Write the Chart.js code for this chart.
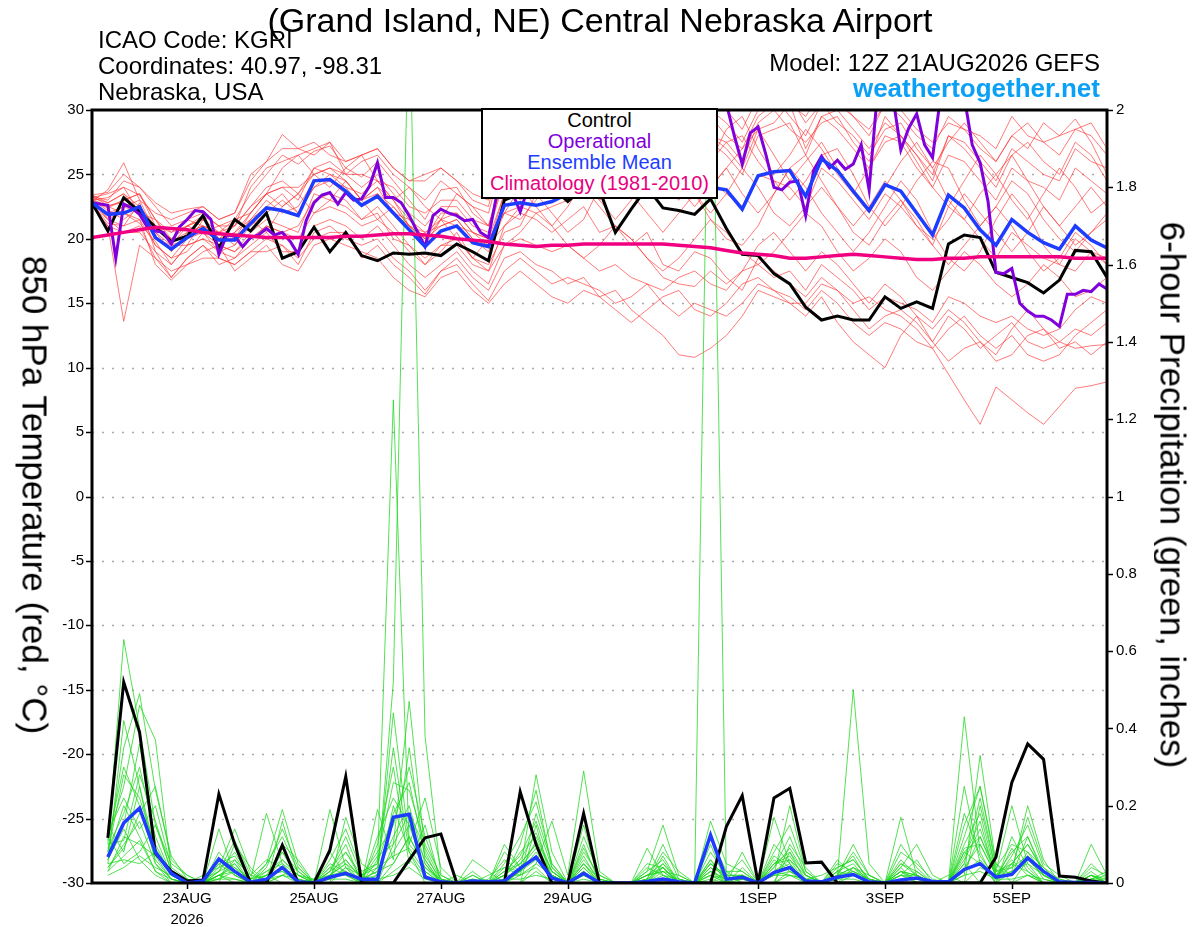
<!DOCTYPE html>
<html>
<head>
<meta charset="utf-8">
<script src="https://cdn.jsdelivr.net/npm/chart.js@4.4.1/dist/chart.umd.min.js"></script>
<style>
html,body{margin:0;padding:0;background:#fff;}
#wrap{position:relative;width:1200px;height:927px;overflow:hidden;font-family:"Liberation Sans",Arial,Helvetica,sans-serif;color:#000;}
#c{position:absolute;left:0;top:0;}
.t{position:absolute;white-space:nowrap;line-height:1;}
#legend{position:absolute;left:481px;top:108px;width:237px;height:91px;box-sizing:border-box;border:2px solid #000;background:#fff;font-size:20px;line-height:21px;text-align:center;padding-top:0px;}
.vt{position:absolute;white-space:nowrap;line-height:1;font-size:35px;transform:translate(-50%,-50%) rotate(90deg);}
</style>
</head>
<body>
<div id="wrap">
<canvas id="c" width="1200" height="927"></canvas>
<div class="t" style="left:0;width:1200px;text-align:center;top:3px;font-size:34px;">(Grand Island, NE) Central Nebraska Airport</div>
<div class="t" style="left:98px;top:28px;font-size:24px;">ICAO Code: KGRI</div>
<div class="t" style="left:98px;top:54px;font-size:24px;">Coordinates: 40.97, -98.31</div>
<div class="t" style="left:98px;top:80px;font-size:24px;">Nebraska, USA</div>
<div class="t" style="right:100px;top:51px;font-size:24px;">Model: 12Z 21AUG2026 GEFS</div>
<div class="t" style="right:100px;top:75px;font-size:26px;font-weight:bold;color:#0aa0f5;">weathertogether.net</div>
<div class="vt" style="left:35px;top:495px;">850 hPa Temperature (red, °C)</div>
<div class="vt" style="left:1173px;top:495px;">6-hour Precipitation (green, inches)</div>
<div id="legend">
<div style="color:#000">Control</div>
<div style="color:rgb(128,0,220)">Operational</div>
<div style="color:rgb(30,60,255)">Ensemble Mean</div>
<div style="color:rgb(232,0,126)">Climatology (1981-2010)</div>
</div>
</div>
<script>
// ---------- axis ticks ----------
const tickHours = [36, 84, 132, 180, 252, 300, 348];
const tickLabels = [["23AUG", "2026"], "25AUG", "27AUG", "29AUG", "1SEP", "3SEP", "5SEP"];

// ---------- 850 hPa temperature, 6-hourly from 12Z 21AUG ----------
const controlTemp = [22.8,20.6,23.2,22.1,20.9,19.8,20.2,21.8,19.3,21.5,
20.6,22.0,18.5,19.0,20.9,19.0,20.5,18.7,18.3,18.9,
18.8,18.9,18.7,19.6,19.0,18.3,23.0,23.5,24.5,24.0,
22.9,24.0,23.8,20.5,22.3,24.0,22.4,22.2,21.9,23.1,
20.8,18.8,18.7,17.3,16.5,14.7,13.7,14.0,13.7,13.7,
15.5,14.6,15.1,14.6,19.6,20.3,20.1,17.4,17.0,16.6,
15.8,16.8,19.1,19.0,17.0];

const meanTemp = [22.8,21.9,22.0,22.5,20.1,19.2,20.1,20.8,19.9,19.9,
21.2,22.4,22.2,21.8,24.5,24.6,23.7,22.6,23.3,22.0,
20.7,19.4,20.6,21.0,19.7,19.4,22.6,22.8,22.6,22.9,
23.5,24.0,24.5,24.0,24.5,25.0,24.5,24.0,24.5,24.0,
23.8,22.3,24.9,25.2,25.3,23.3,26.2,25.3,23.7,22.2,
24.2,23.7,22.0,20.3,23.4,22.4,20.7,19.5,21.5,20.5,
19.7,19.2,21.0,19.9,19.3];

const climoTemp = [20.1,20.3,20.5,20.7,20.9,20.8,20.7,20.5,20.4,20.3,
20.2,20.1,20.1,20.1,20.1,20.1,20.2,20.2,20.3,20.4,
20.4,20.3,20.2,20.0,19.9,19.8,19.6,19.5,19.4,19.5,
19.5,19.6,19.6,19.6,19.6,19.6,19.6,19.5,19.4,19.3,
19.1,18.9,18.8,18.7,18.5,18.5,18.6,18.7,18.8,18.7,
18.6,18.5,18.4,18.4,18.5,18.5,18.6,18.6,18.6,18.6,
18.6,18.6,18.5,18.5,18.5];

// operational run, 3-hourly
const operTemp = [22.8,22.7,22.6,18.5,22.7,22.4,21.9,20.9,20.6,20.5,
19.6,20.9,21.5,22.2,22.1,21.5,18.8,20.3,20.2,19.4,
20.1,20.3,20.8,20.3,20.5,19.8,18.8,21.4,22.8,23.4,
23.6,22.7,23.6,23.0,23.1,24.1,25.9,23.2,23.2,22.8,
21.8,20.6,19.4,21.8,22.3,22.0,21.8,21.4,21.5,20.5,
20.1,23.3,24.0,23.6,22.1,24.0,25.0,26.0,27.5,29.0,
30.5,31.0,31.5,32.0,31.5,32.0,32.5,32.0,31.5,32.0,
32.5,32.0,31.5,32.0,31.5,32.0,31.5,31.0,31.5,31.0,
30.5,28.0,25.8,28.2,28.7,26.5,24.0,23.8,24.4,24.5,
21.8,25.3,26.4,25.5,26.1,25.4,25.8,27.3,23.8,31.0,
32.0,31.0,26.9,28.6,29.7,27.3,26.3,31.0,32.0,32.0,
31.0,27.3,25.9,22.9,17.4,17.3,17.7,15.0,14.4,14.0,
14.0,13.7,13.2,15.7,15.7,16.0,15.9,16.5,16.1];

// ensemble members, temperature
const memT01 = [23.2,23.5,24.0,23.4,21.5,20.0,21.0,21.8,21.0,21.5,23.5,25.0,26.5,25.8,26.8,27.2,25.5,24.8,26.0,24.5,23.0,21.5,23.8,24.0,22.0,21.0,25.5,27.0,28.0,27.5,28.5,29.0,28.0,29.5,28.5,29.0,27.5,28.0,29.5,28.0,27.0,25.5,28.5,29.0,30.5,27.0,29.5,30.0,28.5,27.0,29.0,28.0,26.5,25.0,28.0,27.0,25.5,24.0,26.5,27.5,26.0,25.0,27.5,26.5,24.5];
const memT02 = [22.6,21.0,13.6,19.5,18.5,17.0,18.5,19.5,18.5,18.0,19.0,20.0,19.5,18.0,20.5,21.0,20.0,19.5,20.0,18.5,17.5,16.0,17.5,18.5,17.0,16.0,18.5,19.0,18.0,17.5,16.5,17.0,15.5,16.0,14.5,13.5,12.5,11.0,10.8,11.5,12.5,14.0,16.0,15.5,15.0,14.0,15.5,13.5,12.0,11.0,10.0,12.5,14.0,12.0,10.5,11.5,12.0,10.5,11.0,12.5,13.0,11.5,12.0,11.0,12.0];
const memT03 = [23.0,22.5,22.0,21.5,19.5,18.5,19.0,20.5,19.5,19.0,20.5,21.5,21.0,20.5,23.5,23.0,22.5,21.5,22.0,20.0,19.5,18.0,19.0,20.5,18.5,17.5,21.0,22.0,21.5,20.5,21.5,22.5,20.5,21.0,19.5,20.5,18.0,17.5,19.0,18.5,17.0,16.0,18.5,17.5,16.5,15.5,17.0,16.0,15.0,15.5,14.5,14.0,13.0,11.5,9.5,7.5,5.6,8.5,7.5,6.5,5.6,7.0,8.4,8.6,8.9];
const memT04 = [23.4,22.8,23.5,22.0,20.5,19.5,20.0,21.0,20.0,20.5,22.0,23.5,24.0,23.0,25.5,25.0,24.0,23.5,24.5,23.0,21.0,20.0,21.5,22.0,20.5,19.5,23.5,24.0,23.5,24.5,25.0,24.0,22.5,21.0,20.0,18.5,17.0,16.5,16.3,17.5,16.5,17.5,19.5,20.5,19.0,17.5,19.0,18.0,16.5,15.0,16.5,15.5,14.0,13.0,14.5,13.5,12.0,11.0,13.0,14.5,13.0,12.0,11.5,11.7,11.8];
const memT05 = [22.9,23.8,25.9,23.0,22.0,21.5,22.0,22.5,21.5,22.0,25.0,26.0,28.1,27.0,27.5,26.5,26.0,26.5,27.0,25.5,24.5,25.0,25.5,24.5,23.5,23.0,27.5,29.0,30.5,29.5,30.5,31.0,30.0,31.5,30.5,31.0,29.5,30.5,31.5,30.0,29.0,27.5,30.0,31.0,29.5,28.0,30.5,29.0,28.0,26.5,28.5,29.0,27.0,25.5,27.5,29.0,27.5,26.0,28.0,27.0,29.0,28.0,29.3,27.5,25.0];
const memT06 = [22.7,22.0,22.5,23.0,20.5,19.0,20.5,21.0,20.5,19.5,21.0,22.0,23.0,22.0,24.0,25.0,24.5,23.0,23.5,22.5,21.0,20.0,21.0,21.5,20.0,19.5,21.0,22.5,25.0,26.5,25.0,23.5,24.5,26.5,27.0,25.5,24.0,23.0,24.5,26.0,27.5,28.0,26.0,24.5,23.0,24.5,26.5,27.0,25.0,22.5,21.0,22.5,24.5,26.0,25.5,23.0,21.0,22.5,24.5,23.5,21.5,20.0,19.0,20.5,22.0];
const memT07 = [23.0,21.5,21.0,22.8,19.0,18.0,19.5,20.0,19.0,18.5,20.0,21.0,20.5,21.0,23.0,23.5,23.0,21.5,22.5,21.0,19.5,18.5,19.5,20.0,18.5,18.0,20.5,21.0,23.5,22.0,20.5,21.5,24.0,25.5,23.5,22.0,20.5,22.0,23.5,21.5,20.0,19.5,21.0,23.5,25.5,24.0,22.0,20.5,19.0,20.5,22.5,24.5,23.0,20.5,18.5,17.5,19.0,21.5,23.5,22.0,19.5,18.0,17.5,19.0,18.0];
const memT08 = [23.3,23.0,24.5,24.0,22.5,21.0,21.5,22.0,21.0,21.0,24.0,25.5,26.0,26.5,27.0,27.5,25.0,26.0,26.5,25.0,24.0,23.0,24.5,23.5,22.5,22.0,26.5,28.0,27.5,28.5,29.0,28.5,29.5,28.0,29.0,30.5,29.5,28.5,29.0,29.5,28.0,27.0,29.5,30.5,31.0,29.0,30.5,31.0,29.5,28.5,30.5,29.5,28.0,27.0,29.5,28.5,27.0,26.0,28.0,29.0,27.5,26.5,28.5,28.0,26.5];
const memT09 = [22.5,21.0,20.5,21.0,18.5,17.5,18.0,19.0,19.5,17.5,18.5,19.5,18.0,17.5,19.5,20.0,19.5,19.0,18.5,17.0,16.0,15.5,17.0,17.5,16.0,15.0,16.5,17.5,16.5,15.5,15.0,16.0,15.5,14.5,13.5,14.5,15.5,16.0,14.5,14.0,15.0,16.5,17.0,16.0,15.5,14.5,16.0,15.0,13.5,12.5,13.5,13.0,12.0,11.5,13.0,14.0,12.5,11.5,12.5,11.0,10.5,11.0,12.5,13.5,14.5];
const memT10 = [23.1,22.5,23.0,23.5,21.0,20.0,21.0,21.5,20.5,21.0,22.5,24.0,24.5,23.5,25.5,26.0,25.0,24.0,25.0,23.5,22.0,21.0,22.5,22.5,21.0,20.5,24.5,23.0,24.0,26.5,28.0,26.0,24.5,25.5,27.5,29.0,27.5,25.5,24.5,26.0,28.5,29.5,27.0,25.0,26.5,28.5,27.0,25.0,23.5,25.5,27.5,28.0,26.0,24.0,22.5,24.5,26.5,25.0,23.0,21.5,23.5,25.5,24.0,22.0,23.0];
const memT11 = [22.8,21.8,22.5,22.0,19.5,18.5,20.0,20.5,19.0,19.5,21.5,20.5,22.5,23.5,22.0,23.0,24.5,23.0,21.5,22.5,21.0,19.5,21.5,20.0,18.5,20.0,22.0,22.5,22.0,22.5,23.0,23.5,24.5,24.0,23.5,24.5,24.0,23.5,24.0,24.5,23.5,22.5,25.0,24.5,24.0,22.5,25.5,24.5,23.0,21.5,23.5,22.5,21.0,19.5,22.5,21.5,20.0,18.5,20.5,19.5,18.5,18.0,20.0,19.0,18.5];
const memT12 = [23.0,22.2,21.5,22.5,20.0,19.5,19.5,21.5,20.0,20.0,21.5,23.0,22.0,22.5,24.5,24.5,24.0,22.5,23.5,22.0,21.5,20.5,21.0,21.5,20.0,19.0,22.0,24.0,22.5,21.0,22.5,24.5,23.0,21.5,23.0,25.0,26.5,25.0,23.5,22.0,23.5,25.5,24.0,22.0,21.0,22.5,24.0,22.5,20.5,19.5,21.5,23.0,21.5,19.5,18.0,19.5,21.0,22.5,21.0,19.0,17.5,18.5,20.5,19.5,18.0];
const memT13 = [23.2,22.8,23.5,22.5,21.0,20.5,21.5,21.0,20.5,21.5,22.0,23.5,25.5,26.5,25.0,24.0,25.5,26.5,24.5,23.0,24.0,22.5,21.5,23.5,22.5,21.0,25.0,26.0,26.5,27.0,27.5,28.0,27.0,27.5,28.5,28.0,27.5,27.0,28.0,27.5,26.5,25.0,28.0,28.5,29.0,26.5,29.5,28.5,27.0,25.5,28.0,27.5,25.5,24.0,26.5,26.0,24.5,23.0,25.5,24.5,24.0,23.0,25.5,24.5,23.5];
const memT14 = [22.6,21.5,20.5,20.5,19.0,17.0,18.5,19.5,18.0,18.5,19.5,20.5,19.0,19.0,21.0,21.5,21.0,20.0,21.0,19.5,18.0,17.0,18.0,19.0,17.5,16.5,19.5,20.0,19.5,19.0,19.5,18.5,17.5,18.0,17.0,16.5,16.0,17.0,17.5,16.5,16.0,17.5,18.0,17.0,17.5,16.0,18.0,17.0,16.0,14.5,15.5,15.0,14.5,13.5,15.5,15.0,14.0,13.5,14.0,13.0,12.5,13.0,14.5,15.5,15.0];
const memT15 = [22.9,22.4,23.0,23.5,21.5,19.5,21.0,20.5,21.0,20.0,22.0,23.5,22.5,23.5,25.0,25.5,24.5,23.0,24.0,23.0,21.5,20.0,22.0,22.0,20.5,20.0,23.5,25.5,27.0,25.0,23.5,25.0,27.5,28.5,26.5,25.0,26.5,28.0,26.0,24.0,25.5,27.0,28.5,26.5,24.5,26.0,27.5,25.5,23.5,22.0,24.0,26.0,27.5,25.5,23.0,21.5,23.5,25.0,26.5,24.5,22.5,21.0,22.5,24.0,22.5];
const memT16 = [23.0,23.2,24.0,22.0,21.5,20.5,21.0,21.5,20.0,21.0,22.5,23.5,24.0,24.0,25.0,25.5,25.0,25.0,24.5,24.0,22.5,22.0,23.0,23.0,21.5,21.0,24.5,25.5,26.0,26.5,26.0,27.0,28.0,27.0,26.5,27.5,28.0,27.5,27.0,28.0,27.5,26.0,29.0,30.0,28.5,27.5,29.0,29.5,27.5,26.0,29.5,28.0,26.5,24.5,28.0,27.5,26.0,24.5,27.0,26.0,25.0,24.5,27.0,26.0,25.5];
const memT17 = [22.7,21.2,21.0,21.5,18.0,16.8,18.0,18.5,18.5,18.0,19.0,19.0,19.5,18.5,20.0,20.5,20.5,18.5,19.5,18.0,17.0,15.7,17.5,18.0,16.5,15.2,17.5,18.5,17.5,16.5,17.0,16.5,16.0,15.0,15.5,16.5,15.0,14.0,15.0,14.5,14.0,15.0,16.5,16.0,15.0,15.0,16.5,16.0,14.5,13.0,14.0,14.5,13.5,12.0,14.0,13.0,11.5,12.5,13.5,12.0,11.5,12.0,13.0,12.5,13.5];
const memT18 = [23.3,22.6,22.8,21.8,20.8,19.8,20.5,21.0,19.5,20.5,21.5,22.5,23.5,22.0,24.0,24.5,23.5,23.0,24.0,22.0,21.0,20.5,21.5,21.0,20.5,20.0,22.0,21.5,23.0,25.0,26.5,24.5,23.0,24.0,26.0,27.5,26.0,24.0,22.5,24.0,25.5,23.5,22.0,23.5,25.5,26.5,24.5,22.5,21.0,22.5,24.5,23.0,21.0,20.0,21.5,23.5,22.0,20.5,19.0,20.5,22.5,21.0,19.5,20.5,21.5];
const memT19 = [23.4,23.6,25.0,24.0,22.8,22.0,22.3,22.5,21.5,22.0,24.5,26.0,27.0,27.0,26.5,27.5,26.0,26.5,27.0,25.5,24.5,24.5,25.5,24.5,23.0,22.5,28.0,29.5,30.0,30.5,30.0,31.5,30.5,31.0,31.5,30.5,31.0,31.5,30.5,31.0,30.0,28.5,31.0,31.5,30.5,29.5,31.5,30.5,29.5,28.0,30.5,30.0,28.5,27.5,29.0,28.5,28.0,27.0,29.5,28.0,27.5,28.0,28.5,29.0,27.0];
const memT20 = [22.8,21.6,22.0,21.2,19.8,18.0,19.5,20.0,19.5,19.0,20.0,21.0,20.5,20.0,22.0,22.5,22.0,21.0,21.5,20.5,19.0,18.0,19.5,19.5,18.0,17.5,19.5,20.5,22.0,21.0,19.5,18.5,19.5,21.0,20.0,18.5,17.5,18.5,20.0,21.5,20.5,19.0,18.0,19.0,20.5,22.0,21.0,19.0,17.5,18.5,20.0,19.0,17.0,16.0,17.5,19.0,18.0,16.5,15.5,16.5,18.0,17.0,15.5,16.0,17.0];

// ---------- 6-hour precipitation (inches), periods ending 18Z 21AUG .. 12Z 06SEP ----------
const controlPrecip = [0.117,0.52,0.39,0.077,0.03,0.005,0.008,0.23,0.10,0,
0,0.098,0,0,0.085,0.275,0,0,0,0.06,
0.117,0.127,0,0,0,0,0.236,0.10,0,0,
0.18,0,0,0,0,0,0,0,0,0.146,
0.226,0,0.22,0.245,0.052,0.054,0,0,0,0,
0,0,0,0,0,0,0.067,0.26,0.36,0.32,
0.018,0.015,0.005,0];

const meanPrecip = [0.067,0.155,0.194,0.08,0.025,0,0.005,0.062,0.03,0.002,
0.01,0.04,0.003,0,0.015,0.025,0.01,0.01,0.17,0.178,
0.015,0.003,0,0.005,0.003,0.005,0.038,0.067,0.013,0,
0.025,0,0,0,0.004,0.01,0.003,0,0.124,0.01,
0.015,0,0.027,0.04,0.005,0.003,0.015,0.022,0.003,0,
0.008,0.013,0.004,0.003,0.035,0.05,0.015,0.022,0.065,0.03,
0.003,0.001,0.001,0];

const memP01 = [0.10,0.63,0.40,0.15,0.03,0,0,0.05,0.02,0, 0,0.04,0,0,0.02,0.05,0,0,0.05,0.12, 0.04,0,0,0,0,0.02,0.05,0.10,0.02,0, 0.03,0,0,0,0,0.02,0,0,0.03,0, 0,0,0.05,0.08,0,0,0,0.02,0,0, 0,0.03,0,0,0.08,0.05,0,0.03,0.05,0.02, 0,0,0,0];
const memP02 = [0.05,0.42,0.25,0.08,0.02,0,0.01,0.03,0.05,0, 0.02,0.08,0.03,0,0.05,0.03,0,0.02,0.52,2.30, 0.38,0.02,0,0,0,0,0.03,0.06,0.02,0, 0.05,0,0,0,0.02,0.04,0,0,0.02,0.01, 0.02,0,0.03,0.02,0.01,0,0.02,0.08,0.02,0, 0.05,0.02,0,0,0.04,0.10,0.02,0.02,0.08,0.04, 0.01,0,0.02,0];
const memP03 = [0.08,0.35,0.49,0.24,0.07,0.01,0,0,0.10,0.04, 0,0,0,0,0.02,0.08,0.02,0.05,1.25,0.10, 0.05,0,0,0.02,0,0.05,0.12,0.21,0.05,0, 0,0,0,0,0,0,0,0,0.05,0.02, 0,0,0.10,0.05,0,0,0.03,0.02,0,0, 0.02,0,0,0,0.12,0.25,0.05,0,0.02,0, 0,0,0,0];
const memP04 = [0.12,0.25,0.46,0.37,0.03,0,0,0.02,0,0, 0.05,0.19,0.05,0,0,0,0,0,0.20,0.08, 0,0,0,0,0,0,0,0.05,0.16,0.02, 0.29,0.03,0,0,0,0,0,0,2.50,0, 0.08,0,0,0.02,0,0,0,0,0,0, 0,0,0,0,0.05,0,0,0.05,0.03,0, 0,0,0,0];
const memP05 = [0.06,0.15,0.36,0.10,0.02,0,0,0.14,0.02,0, 0.02,0,0,0,0.19,0.04,0,0,0.10,0.47, 0.08,0,0,0.06,0.03,0,0,0.03,0,0, 0.02,0,0,0,0.09,0.02,0,0,0,0.03, 0,0,0,0.03,0,0,0.02,0.50,0.05,0, 0,0,0,0.02,0,0.04,0.02,0.06,0.02,0, 0,0,0.02,0];
const memP06 = [0.04,0.10,0.16,0.05,0.01,0,0.02,0.04,0.14,0.03, 0,0.02,0.04,0,0,0.17,0.05,0.02,0.44,0.10, 0.22,0.04,0,0,0,0,0.03,0.28,0.08,0, 0.05,0,0,0,0,0.05,0,0,0.02,0, 0,0,0.02,0.20,0.03,0,0,0,0,0, 0.03,0.02,0,0,0.43,0.08,0,0,0.06,0.02, 0,0,0,0];
const memP07 = [0.15,0.08,0.25,0.05,0,0,0,0.03,0.08,0.01, 0.18,0.05,0,0,0.03,0.10,0,0.19,0.06,0.35, 0.06,0,0,0,0,0.02,0.08,0.12,0.03,0, 0.15,0,0,0,0.03,0.15,0.02,0,0.02,0, 0,0,0.17,0.05,0,0,0,0.04,0.02,0, 0.10,0.04,0,0,0.02,0.33,0.05,0.02,0.12,0.03, 0,0,0.04,0.02];
const memP08 = [0.03,0.12,0.10,0.07,0.01,0,0,0.08,0.03,0, 0,0.16,0.02,0,0.04,0.02,0,0.06,0.26,0.24, 0.10,0.02,0,0,0,0,0,0.15,0,0, 0.02,0,0,0,0,0.07,0,0,0.16,0.05, 0.03,0,0,0.08,0.02,0,0.02,0.02,0,0, 0.17,0.02,0,0,0,0.20,0.03,0.20,0.05,0, 0,0,0,0];
const memP09 = [0.07,0.20,0.12,0.03,0,0,0,0.02,0.05,0, 0.03,0.05,0.02,0.01,0.02,0.02,0.01,0.02,0.08,0.15, 0.03,0,0.02,0,0,0.10,0.04,0.07,0.02,0, 0.08,0.02,0,0,0.02,0.03,0.02,0,0.04,0.02, 0.02,0,0.04,0.12,0.02,0,0.05,0.03,0.01,0, 0.04,0.10,0.02,0,0.06,0.14,0.02,0.04,0.17,0.05, 0.02,0,0.10,0.02];
const memP10 = [0.12,0.05,0.08,0.15,0.05,0.02,0,0.02,0.01,0, 0,0.10,0.06,0,0,0.04,0.02,0,0.03,0.06, 0.02,0,0,0,0.02,0.04,0.02,0.18,0.05,0, 0.12,0.02,0,0,0.04,0.02,0.01,0,0.10,0, 0.02,0,0.08,0.15,0.03,0,0.02,0.10,0.02,0, 0.02,0.01,0,0,0.15,0.25,0.04,0.10,0.08,0.02, 0,0,0.03,0];
const memP11 = [0.09,0.18,0.30,0.12,0.02,0,0,0.04,0.06,0, 0.02,0.03,0,0,0.01,0.04,0,0.04,0.35,0.08, 0.02,0,0,0.02,0,0.03,0.05,0.10,0.01,0, 0.04,0,0,0,0.05,0.04,0,0,0.06,0, 0.04,0,0.06,0.03,0.01,0,0.03,0.05,0,0, 0.06,0.02,0,0,0.10,0.18,0.02,0.03,0.20,0.06, 0,0,0.05,0.01];
const memP12 = [0.05,0.06,0.05,0.08,0.03,0.01,0,0.01,0.03,0.01, 0.05,0.12,0.03,0,0.02,0.06,0.01,0.03,0.05,0.12, 0.04,0.01,0,0,0.01,0.06,0.03,0.08,0.03,0, 0.06,0.01,0,0,0.01,0.08,0.03,0,0.03,0.01, 0.01,0,0.05,0.07,0.01,0.02,0.04,0.06,0.01,0, 0.08,0.05,0.01,0,0.03,0.12,0.03,0.05,0.10,0.03, 0.01,0,0.01,0.03];
const memP13 = [0.11,0.30,0.20,0.06,0.01,0,0,0.06,0.02,0, 0,0.02,0,0,0.03,0.12,0.02,0.08,0.15,0.30, 0.12,0.01,0,0,0,0.01,0.10,0.24,0.04,0, 0.10,0,0,0,0,0.03,0,0,0.08,0.02, 0.06,0,0,0.10,0.04,0,0.01,0.03,0,0, 0.03,0,0,0,0.25,0.05,0,0.12,0.04,0, 0,0,0,0];
const memP14 = [0.02,0.04,0.07,0.04,0.02,0,0.01,0.01,0.01,0, 0.01,0.02,0.01,0,0.01,0.01,0,0.01,0.02,0.04, 0.01,0,0,0.01,0,0.01,0.01,0.02,0.01,0, 0.01,0,0,0,0.01,0.01,0,0,0.01,0, 0.01,0,0.02,0.02,0.01,0,0.01,0.01,0,0, 0.01,0.01,0,0,0.02,0.03,0.01,0.01,0.02,0.01, 0,0,0.01,0];
const memP15 = [0.13,0.22,0.14,0.20,0.04,0.01,0,0.03,0.11,0.02, 0.06,0.04,0,0.01,0.08,0.02,0,0.10,0.30,0.05, 0.15,0,0,0.03,0,0,0.02,0.04,0,0, 0.03,0,0,0,0.03,0.06,0,0,0.12,0.03, 0.03,0,0.03,0.06,0,0,0.04,0.06,0.01,0, 0.04,0,0,0,0.07,0.16,0.01,0.07,0.15,0.04, 0,0,0.02,0.01];
const memP16 = [0.04,0.09,0.18,0.25,0.06,0.02,0,0.02,0.04,0, 0.01,0.08,0.01,0,0.03,0.06,0.01,0.03,0.12,0.20, 0.05,0,0,0,0,0.02,0.06,0.13,0.03,0, 0.09,0.01,0,0,0.01,0.10,0.01,0,0.05,0.01, 0.02,0,0.04,0.09,0.02,0,0.02,0.04,0.01,0, 0.05,0.03,0,0,0.09,0.10,0.02,0.08,0.12,0.02, 0,0,0.02,0];
const memP17 = [0.06,0.14,0.06,0.02,0,0,0,0.05,0.07,0.01, 0.03,0.06,0.02,0,0.06,0.14,0.03,0.05,0.18,0.26, 0.07,0.01,0,0,0,0.08,0.04,0.09,0.02,0, 0.04,0,0,0,0,0.04,0,0,0.06,0.01, 0.01,0,0.07,0.04,0,0,0.03,0.07,0,0, 0.02,0.06,0,0,0.05,0.22,0.03,0.04,0.07,0.01, 0,0,0.01,0.02];
const memP18 = [0.08,0.28,0.22,0.09,0.02,0,0,0.02,0.03,0, 0.04,0.14,0.04,0,0.02,0.03,0,0.12,0.22,0.15, 0.06,0,0,0,0,0.03,0.07,0.16,0.04,0, 0.07,0,0,0,0.02,0.03,0,0,0.04,0, 0.02,0,0.03,0.05,0,0,0.06,0.02,0,0, 0.03,0.01,0,0,0.18,0.07,0.01,0.09,0.03,0, 0,0,0,0];
const memP19 = [0.03,0.07,0.11,0.03,0.01,0,0.01,0.06,0.04,0.01, 0.02,0.03,0.01,0,0.02,0.05,0.02,0.04,0.07,0.09, 0.03,0,0,0.01,0,0.02,0.02,0.05,0.02,0, 0.02,0,0,0,0.02,0.05,0.01,0,0.03,0.01, 0.01,0,0.02,0.03,0.01,0,0.02,0.03,0.01,0, 0.02,0.02,0,0,0.03,0.06,0.01,0.03,0.06,0.02, 0,0,0.01,0.01];
const memP20 = [0.10,0.11,0.28,0.16,0.03,0,0,0.01,0.06,0.02, 0.01,0.06,0.02,0,0.04,0.08,0.01,0.07,0.10,0.18, 0.09,0.01,0,0,0,0.04,0.03,0.11,0.03,0, 0.05,0.01,0,0,0.01,0.04,0,0,0.05,0.02, 0.02,0,0.05,0.06,0.02,0,0.02,0.04,0,0, 0.03,0.02,0,0,0.08,0.12,0.02,0.05,0.10,0.03, 0,0,0.02,0];

const memberTemps = [memT01,memT02,memT03,memT04,memT05,memT06,memT07,memT08,memT09,memT10,
  memT11,memT12,memT13,memT14,memT15,memT16,memT17,memT18,memT19,memT20];
const memberPrecips = [memP01,memP02,memP03,memP04,memP05,memP06,memP07,memP08,memP09,memP10,
  memP11,memP12,memP13,memP14,memP15,memP16,memP17,memP18,memP19,memP20];

// ---------- build datasets ----------
function series(arr, stepH, startH) { return arr.map((v, i) => ({ x: startH + i * stepH, y: v })); }
const base = { pointRadius: 0, pointHoverRadius: 0, tension: 0, fill: false, borderJoinStyle: 'miter' };
const datasets = [];
memberTemps.forEach(m => datasets.push(Object.assign({}, base, {
  data: series(m, 6, 0), yAxisID: 'y', borderColor: 'rgba(255,45,45,0.7)', borderWidth: 0.9, order: 6 })));
memberPrecips.forEach(m => datasets.push(Object.assign({}, base, {
  data: series(m, 6, 6), yAxisID: 'y2', borderColor: 'rgba(30,215,30,0.85)', borderWidth: 0.9, order: 5 })));
datasets.push(Object.assign({}, base, { data: series(controlTemp, 6, 0), yAxisID: 'y', borderColor: '#000', borderWidth: 3, order: 4 }));
datasets.push(Object.assign({}, base, { data: series(controlPrecip, 6, 6), yAxisID: 'y2', borderColor: '#000', borderWidth: 3, order: 4 }));
datasets.push(Object.assign({}, base, { data: series(operTemp, 3, 0), yAxisID: 'y', borderColor: 'rgb(128,0,220)', borderWidth: 3, order: 3 }));
datasets.push(Object.assign({}, base, { data: series(meanTemp, 6, 0), yAxisID: 'y', borderColor: 'rgb(30,60,255)', borderWidth: 3.5, order: 2 }));
datasets.push(Object.assign({}, base, { data: series(meanPrecip, 6, 6), yAxisID: 'y2', borderColor: 'rgb(30,60,255)', borderWidth: 3.5, order: 2 }));
datasets.push(Object.assign({}, base, { data: series(climoTemp, 6, 0), yAxisID: 'y', borderColor: 'rgb(240,0,128)', borderWidth: 3.5, order: 1 }));

const frame = {
  id: 'frame',
  beforeDatasetsDraw(chart) {
    const { ctx, chartArea: a, scales } = chart;
    ctx.save();
    ctx.strokeStyle = '#a8a8a8';
    ctx.lineWidth = 1.5;
    ctx.setLineDash([2, 8]);
    scales.y.ticks.forEach(t => {
      if (t.value <= scales.y.min || t.value >= scales.y.max) return;
      const y = Math.round(scales.y.getPixelForValue(t.value)) + 0.5;
      ctx.beginPath(); ctx.moveTo(a.left, y); ctx.lineTo(a.right, y); ctx.stroke();
    });
    ctx.restore();
  },
  afterDatasetsDraw(chart) {
    const { ctx, chartArea: a, scales } = chart;
    ctx.save();
    ctx.strokeStyle = '#000';
    ctx.lineWidth = 1.5;
    scales.y.ticks.forEach(t => {
      const y = Math.round(scales.y.getPixelForValue(t.value)) + 0.5;
      ctx.beginPath(); ctx.moveTo(a.left - 6, y); ctx.lineTo(a.left, y); ctx.stroke();
    });
    scales.y2.ticks.forEach(t => {
      const y = Math.round(scales.y2.getPixelForValue(t.value)) + 0.5;
      ctx.beginPath(); ctx.moveTo(a.right, y); ctx.lineTo(a.right + 6, y); ctx.stroke();
    });
    scales.x.ticks.forEach(t => {
      const x = Math.round(scales.x.getPixelForValue(t.value)) + 0.5;
      ctx.beginPath(); ctx.moveTo(x, a.bottom); ctx.lineTo(x, a.bottom + 6); ctx.stroke();
    });
    ctx.lineWidth = 3;
    ctx.strokeRect(a.left, a.top, a.right - a.left, a.bottom - a.top);
    ctx.restore();
  }
};

const tickFont = { family: '"Liberation Sans", Arial, sans-serif', size: 15 };
new Chart(document.getElementById('c'), {
  type: 'line',
  data: { datasets },
  plugins: [frame],
  options: {
    responsive: false,
    devicePixelRatio: 1,
    animation: false,
    events: [],
    layout: { padding: { top: 110, left: 0, right: 0, bottom: 0 } },
    plugins: { legend: { display: false }, tooltip: { enabled: false }, title: { display: false } },
    scales: {
      x: {
        type: 'linear', min: 0, max: 384,
        grid: { display: false, drawTicks: false }, border: { display: false },
        afterBuildTicks: s => { s.ticks = tickHours.map(v => ({ value: v })); },
        afterFit: s => { s.height = 44; },
        ticks: { autoSkip: false, maxRotation: 0, minRotation: 0, padding: 6, color: '#000',
          font: Object.assign({ lineHeight: 1.35 }, tickFont),
          callback: v => tickLabels[tickHours.indexOf(v)] }
      },
      y: {
        position: 'left', min: -30, max: 30,
        grid: { display: false, drawTicks: false }, border: { display: false },
        afterFit: s => { s.width = 92; },
        ticks: { stepSize: 5, padding: 8, color: '#000', font: tickFont }
      },
      y2: {
        position: 'right', min: 0, max: 2,
        grid: { display: false, drawTicks: false }, border: { display: false },
        afterFit: s => { s.width = 93; },
        ticks: { stepSize: 0.2, padding: 9, color: '#000', font: tickFont,
          callback: v => String(Math.round(v * 10) / 10) }
      }
    }
  }
});
</script>
</body>
</html>
